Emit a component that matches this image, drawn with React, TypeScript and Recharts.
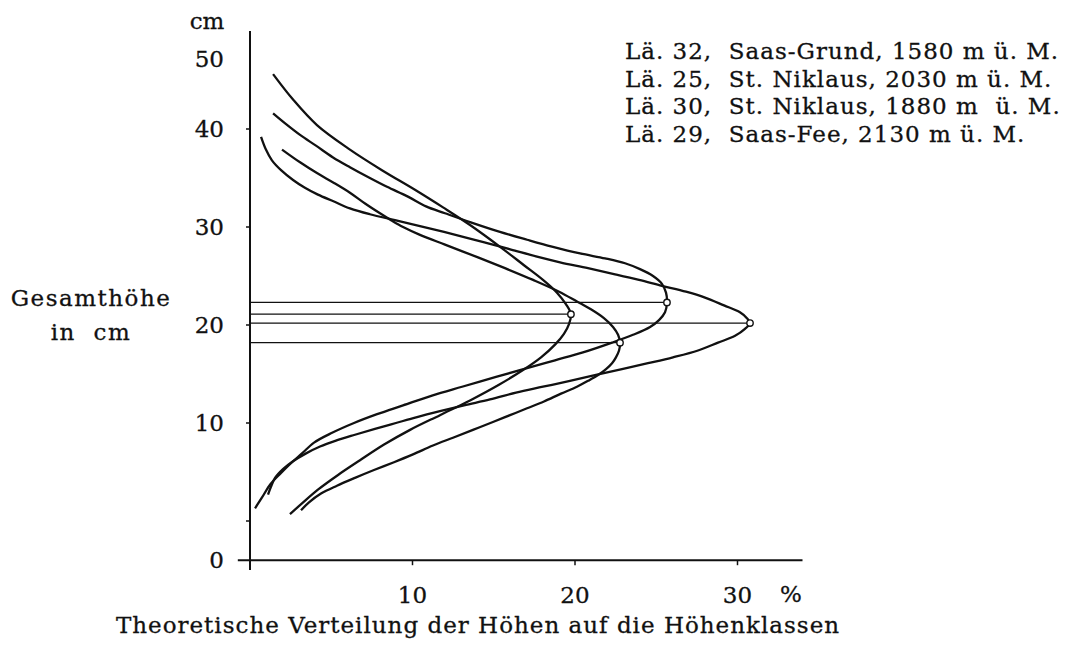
import React from 'react';
import { ScatterChart, Scatter, XAxis, YAxis, ReferenceLine } from 'recharts';

type Pt = { x: number; y: number };

// x = share in % (Theoretische Verteilung), y = Gesamthöhe in cm
// Lä. 32, Saas-Grund (peak ≈ 22.3 cm)
const curveA: Pt[] = [
  { x: 1.42, y: 41.6 }, { x: 2.22, y: 40.5 }, { x: 3.08, y: 39.4 }, { x: 4.06, y: 38.3 },
  { x: 5.11, y: 37.1 }, { x: 6.15, y: 36.1 }, { x: 7.26, y: 35.1 }, { x: 8.43, y: 34.1 },
  { x: 9.72, y: 33.1 }, { x: 10.83, y: 32.1 }, { x: 12.0, y: 31.4 }, { x: 13.54, y: 30.5 },
  { x: 15.38, y: 29.5 }, { x: 17.05, y: 28.7 }, { x: 18.58, y: 28.0 }, { x: 20.31, y: 27.3 },
  { x: 21.85, y: 26.8 }, { x: 23.08, y: 26.3 }, { x: 24.0, y: 25.7 }, { x: 24.8, y: 25.0 },
  { x: 25.35, y: 24.2 }, { x: 25.6, y: 23.3 }, { x: 25.66, y: 22.3 },
  { x: 25.54, y: 21.3 }, { x: 25.17, y: 20.5 }, { x: 24.62, y: 19.8 }, { x: 23.57, y: 19.0 },
  { x: 22.28, y: 18.2 }, { x: 20.49, y: 17.2 }, { x: 18.77, y: 16.4 }, { x: 17.05, y: 15.6 },
  { x: 15.14, y: 14.7 }, { x: 13.05, y: 13.7 }, { x: 11.2, y: 12.8 }, { x: 9.42, y: 11.8 },
  { x: 7.82, y: 10.9 }, { x: 6.4, y: 10.0 }, { x: 5.05, y: 9.0 }, { x: 3.94, y: 8.0 },
  { x: 3.2, y: 6.9 }, { x: 2.52, y: 5.9 }, { x: 1.91, y: 4.9 }, { x: 1.23, y: 3.7 },
  { x: 0.74, y: 2.4 }, { x: 0.31, y: 1.3 },
];
// Lä. 30, St. Niklaus 1880 m (peak ≈ 21.1 cm)
const curveB: Pt[] = [
  { x: 1.42, y: 45.6 }, { x: 2.65, y: 43.0 }, { x: 4.12, y: 40.4 }, { x: 6.15, y: 37.9 },
  { x: 8.12, y: 35.8 }, { x: 10.15, y: 33.8 }, { x: 11.88, y: 32.0 }, { x: 13.54, y: 30.2 },
  { x: 15.45, y: 27.9 }, { x: 16.86, y: 26.1 }, { x: 18.03, y: 24.6 }, { x: 18.89, y: 23.3 },
  { x: 19.45, y: 22.1 }, { x: 19.75, y: 21.1 }, { x: 19.63, y: 20.1 }, { x: 19.32, y: 19.1 },
  { x: 18.77, y: 18.0 }, { x: 17.91, y: 16.7 }, { x: 16.8, y: 15.4 }, { x: 15.32, y: 13.9 },
  { x: 13.54, y: 12.3 }, { x: 11.69, y: 10.8 }, { x: 9.85, y: 9.3 }, { x: 8.25, y: 7.8 },
  { x: 6.77, y: 6.2 }, { x: 5.42, y: 4.7 }, { x: 4.18, y: 3.2 }, { x: 3.2, y: 1.8 },
  { x: 2.46, y: 0.7 },
];
// Lä. 25, St. Niklaus 2030 m (peak ≈ 20.2 cm)
const curveC: Pt[] = [
  { x: 0.68, y: 39.2 }, { x: 0.98, y: 37.9 }, { x: 1.35, y: 36.8 }, { x: 1.91, y: 35.8 },
  { x: 2.65, y: 34.8 }, { x: 3.38, y: 34.0 }, { x: 4.18, y: 33.3 }, { x: 5.17, y: 32.6 },
  { x: 6.15, y: 31.9 }, { x: 7.38, y: 31.3 }, { x: 8.92, y: 30.7 }, { x: 10.46, y: 30.1 },
  { x: 11.94, y: 29.5 }, { x: 13.35, y: 28.9 }, { x: 14.71, y: 28.3 }, { x: 16.06, y: 27.7 },
  { x: 17.6, y: 27.0 }, { x: 19.08, y: 26.4 }, { x: 20.8, y: 25.8 }, { x: 22.4, y: 25.2 },
  { x: 23.94, y: 24.6 }, { x: 25.35, y: 24.0 }, { x: 26.83, y: 23.4 }, { x: 28.0, y: 22.8 },
  { x: 29.17, y: 22.0 }, { x: 30.15, y: 21.3 }, { x: 30.58, y: 20.7 }, { x: 30.77, y: 20.2 },
  { x: 30.46, y: 19.6 }, { x: 29.85, y: 18.9 }, { x: 28.8, y: 18.2 }, { x: 27.57, y: 17.4 },
  { x: 26.03, y: 16.7 }, { x: 24.49, y: 16.1 }, { x: 22.89, y: 15.5 }, { x: 21.29, y: 14.9 },
  { x: 19.69, y: 14.3 }, { x: 18.03, y: 13.7 }, { x: 16.37, y: 13.1 }, { x: 14.77, y: 12.4 },
  { x: 13.17, y: 11.8 }, { x: 11.69, y: 11.2 }, { x: 10.28, y: 10.6 }, { x: 8.98, y: 10.0 },
  { x: 7.69, y: 9.4 }, { x: 6.46, y: 8.8 }, { x: 5.29, y: 8.2 }, { x: 4.31, y: 7.6 },
  { x: 3.45, y: 6.9 }, { x: 2.65, y: 6.1 }, { x: 2.03, y: 5.3 }, { x: 1.54, y: 4.4 },
  { x: 1.29, y: 3.5 }, { x: 1.11, y: 2.7 },
];
// Lä. 29, Saas-Fee (peak ≈ 18.2 cm)
const curveD: Pt[] = [
  { x: 1.97, y: 37.9 }, { x: 3.08, y: 36.6 }, { x: 4.12, y: 35.5 }, { x: 5.17, y: 34.5 },
  { x: 6.15, y: 33.5 }, { x: 7.08, y: 32.4 }, { x: 8.0, y: 31.4 }, { x: 8.68, y: 30.7 },
  { x: 9.42, y: 30.0 }, { x: 10.46, y: 29.2 }, { x: 12.0, y: 28.2 }, { x: 14.03, y: 26.9 },
  { x: 15.69, y: 25.8 }, { x: 17.42, y: 24.6 }, { x: 19.02, y: 23.4 }, { x: 20.12, y: 22.4 },
  { x: 20.98, y: 21.6 }, { x: 21.78, y: 20.7 }, { x: 22.34, y: 19.8 }, { x: 22.65, y: 19.0 },
  { x: 22.77, y: 18.2 }, { x: 22.71, y: 17.4 }, { x: 22.52, y: 16.7 }, { x: 22.28, y: 16.1 },
  { x: 21.91, y: 15.5 }, { x: 21.42, y: 14.9 }, { x: 20.8, y: 14.3 }, { x: 20.12, y: 13.7 },
  { x: 19.14, y: 13.0 }, { x: 18.09, y: 12.2 }, { x: 17.05, y: 11.5 }, { x: 16.0, y: 10.8 },
  { x: 14.95, y: 10.1 }, { x: 13.72, y: 9.3 }, { x: 12.49, y: 8.5 }, { x: 11.26, y: 7.7 },
  { x: 10.03, y: 6.8 }, { x: 8.86, y: 6.0 }, { x: 7.63, y: 5.2 }, { x: 6.46, y: 4.4 },
  { x: 5.35, y: 3.6 }, { x: 4.37, y: 2.8 }, { x: 3.63, y: 1.9 }, { x: 3.14, y: 1.1 },
];

const peakX = [25.66, 19.75, 30.77, 22.77];
const peakY = [22.3, 21.1, 20.2, 18.2];

const xTicks = [10, 20, 30];
const yTickValues = [-4, 0, 10, 20, 30, 40, 47.2];
const yTickLabels = ['0', '', '10', '20', '30', '40', '50'];
const yTickMarks = [0, 10, 20, 30, 40];

const legendLines = [
  'Lä. 32,  Saas-Grund, 1580 m ü. M.',
  'Lä. 25,  St. Niklaus, 2030 m ü. M.',
  'Lä. 30,  St. Niklaus, 1880 m  ü. M.',
  'Lä. 29,  Saas-Fee, 2130 m ü. M.',
];
const yAxisTitle = ['Gesamthöhe', 'in  cm'];
const xAxisTitle = 'Theoretische Verteilung der Höhen auf die Höhenklassen';

const FONT = '"DejaVu Serif", "Liberation Serif", serif';
const INK = '#111';
const Y_TICK_SIZE = 4;
const Y_TICK_MARGIN = 22;

const peaks = peakX.map((x, i) => ({ x, y: peakY[i] }));
const curves = [curveA, curveB, curveC, curveD];

// Smooth centripetal Catmull-Rom curve (d3 curve-factory interface) used for the drawn lines
const catmullRom = (context: any) => {
  let pts: number[][] = [];
  const seg = (p0: number[], p1: number[], p2: number[], p3: number[]) => {
    const d = (a: number[], b: number[]) => Math.hypot(b[0] - a[0], b[1] - a[1]);
    const l01a = Math.sqrt(d(p0, p1));
    const l12a = Math.sqrt(d(p1, p2));
    const l23a = Math.sqrt(d(p2, p3));
    const l01_2a = l01a * l01a;
    const l12_2a = l12a * l12a;
    const l23_2a = l23a * l23a;
    let x1 = p1[0], y1 = p1[1], x2 = p2[0], y2 = p2[1];
    if (l01a > 1e-6) {
      const a = 2 * l01_2a + 3 * l01a * l12a + l12_2a;
      const n = 3 * l01a * (l01a + l12a);
      x1 = (p1[0] * a - p0[0] * l12_2a + p2[0] * l01_2a) / n;
      y1 = (p1[1] * a - p0[1] * l12_2a + p2[1] * l01_2a) / n;
    }
    if (l23a > 1e-6) {
      const b = 2 * l23_2a + 3 * l23a * l12a + l12_2a;
      const m = 3 * l23a * (l23a + l12a);
      x2 = (p2[0] * b + p1[0] * l23_2a - p3[0] * l12_2a) / m;
      y2 = (p2[1] * b + p1[1] * l23_2a - p3[1] * l12_2a) / m;
    }
    context.bezierCurveTo(x1, y1, x2, y2, p2[0], p2[1]);
  };
  return {
    areaStart() {},
    areaEnd() {},
    lineStart() {
      pts = [];
    },
    point(x: number, y: number) {
      pts.push([+x, +y]);
    },
    lineEnd() {
      const n = pts.length;
      if (!n) return;
      context.moveTo(pts[0][0], pts[0][1]);
      if (n === 1) return;
      for (let i = 0; i < n - 1; i++) {
        const p0 = pts[i > 0 ? i - 1 : i];
        const p3 = pts[i + 2 < n ? i + 2 : i + 1];
        seg(p0, pts[i], pts[i + 1], p3);
      }
    },
  };
};

const YTick = (props: any) => {
  const { x, y, payload } = props;
  const v = payload.value;
  const i = yTickValues.indexOf(v);
  const label = i >= 0 ? yTickLabels[i] : '';
  const mark = yTickMarks.includes(v);
  return (
    <g>
      {mark && (
        <line x1={x + Y_TICK_MARGIN} x2={x + Y_TICK_MARGIN + Y_TICK_SIZE} y1={y} y2={y} stroke={INK} strokeWidth={1.5} />
      )}
      {label && (
        <text x={x} y={y} dy="0.36em" textAnchor="end" fontFamily={FONT} fontSize={23} fill={INK} stroke={INK} strokeWidth={0.3}>
          {label}
        </text>
      )}
    </g>
  );
};

const NoShape = () => <g />;
const PeakShape = (props: any) => (
  <circle cx={props.cx} cy={props.cy} r={3.2} fill="#fff" stroke={INK} strokeWidth={1.4} />
);

export default function App() {
  return (
    <div style={{ position: 'absolute', left: 0, top: 0, width: 1071, height: 646, background: '#fff' }}>
      <ScatterChart width={1071} height={646} margin={{ top: 31, right: 268.5, bottom: 55.8, left: 190 }}>
        <XAxis
          type="number"
          dataKey="x"
          domain={[0, 34]}
          allowDataOverflow
          ticks={xTicks}
          interval={0}
          axisLine={false}
          tickSize={5}
          tickMargin={21}
          tickLine={{ stroke: INK, strokeWidth: 1.5 }}
          tick={{ fontFamily: FONT, fontSize: 23, fill: INK, stroke: INK, strokeWidth: 0.3 }}
          height={30}
        />
        <YAxis
          type="number"
          dataKey="y"
          domain={[-4, 50]}
          allowDataOverflow
          ticks={yTickValues}
          interval={0}
          axisLine={false}
          tickLine={false}
          tickSize={Y_TICK_SIZE}
          tickMargin={Y_TICK_MARGIN}
          tick={<YTick />}
          width={60}
        />
        <ReferenceLine
          segment={[{ x: -0.75, y: -4 }, { x: 34, y: -4 }]}
          ifOverflow="visible"
          stroke={INK}
          strokeWidth={2}
        />
        <ReferenceLine
          segment={[{ x: 0, y: -5 }, { x: 0, y: 50 }]}
          ifOverflow="visible"
          stroke={INK}
          strokeWidth={2}
        />
        {peaks.map((p, i) => (
          <ReferenceLine
            key={'h' + i}
            segment={[{ x: 0, y: p.y }, { x: p.x, y: p.y }]}
            ifOverflow="visible"
            stroke={INK}
            strokeWidth={1.3}
          />
        ))}
        {curves.map((c, i) => (
          <Scatter
            key={'c' + i}
            data={c}
            fill={INK}
            line={{ stroke: INK, strokeWidth: 2.3 }}
            lineJointType={catmullRom as any}
            shape={<NoShape />}
            isAnimationActive={false}
            legendType="none"
          />
        ))}
        <Scatter data={peaks} fill={INK} shape={<PeakShape />} isAnimationActive={false} legendType="none" />
      </ScatterChart>
      <svg
        width={1071}
        height={646}
        style={{ position: 'absolute', left: 0, top: 0, pointerEvents: 'none' }}
        fontFamily={FONT}
        fill={INK}
        stroke={INK}
        strokeWidth={0.3}
      >
        <text x={207} y={29} textAnchor="middle" fontSize={23}>cm</text>
        {legendLines.map((t, i) => (
          <text key={i} x={625} y={59 + i * 27.7} fontSize={23} letterSpacing={1} style={{ whiteSpace: 'pre' }}>
            {t}
          </text>
        ))}
        <text x={91} y={306} textAnchor="middle" fontSize={23} letterSpacing={1.5}>{yAxisTitle[0]}</text>
        <text x={91} y={340} textAnchor="middle" fontSize={23} letterSpacing={1.5} style={{ whiteSpace: 'pre' }}>{yAxisTitle[1]}</text>
        <text x={791} y={602} textAnchor="middle" fontSize={23}>%</text>
        <text x={478} y={633} textAnchor="middle" fontSize={23} letterSpacing={1}>{xAxisTitle}</text>
      </svg>
    </div>
  );
}
